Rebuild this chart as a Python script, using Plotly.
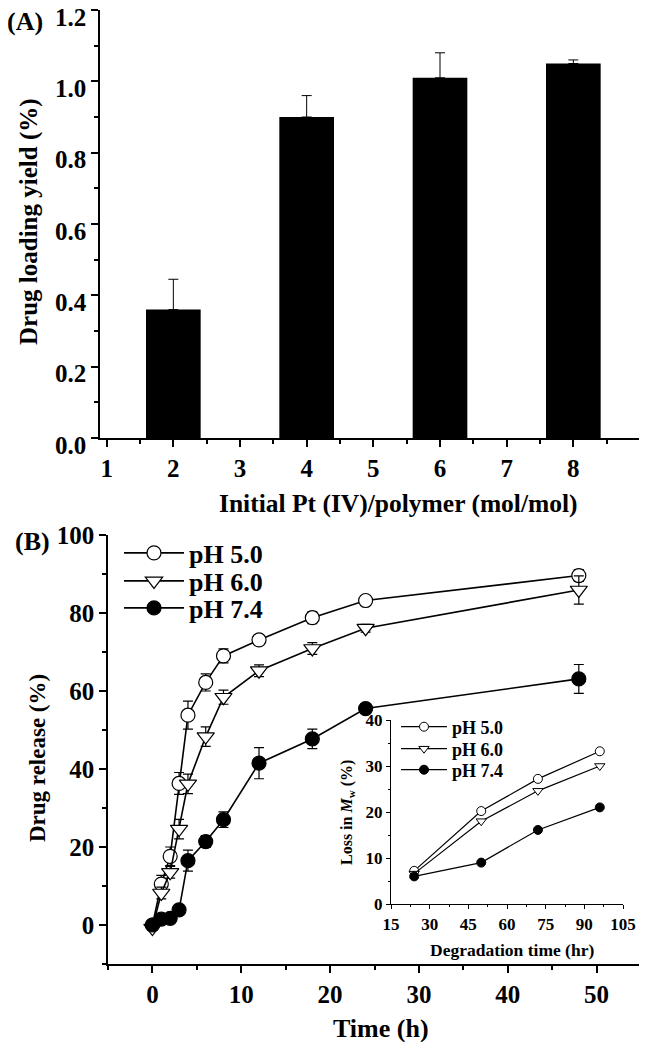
import plotly.graph_objects as go

# ---------- Panel A data ----------
ratio = [2, 4, 6, 8]
loading = [0.36, 0.90, 1.01, 1.05]
loading_err = [0.085, 0.06, 0.07, 0.01]

# ---------- Panel B data ----------
time_h = [0, 1, 2, 3, 4, 6, 8, 12, 18, 24, 48]
rel_ph50 = [0.0, 10.5, 17.6, 36.3, 53.8, 62.2, 69.0, 73.1, 78.8, 83.2, 89.6]
err_ph50 = [0.5, 2.2, 2.4, 2.8, 3.6, 2.2, 1.8, 1.0, 1.5, 1.2, 1.5]
rel_ph60 = [-0.8, 8.2, 13.5, 24.6, 36.2, 48.3, 58.4, 65.2, 70.9, 76.1, 85.9]
err_ph60 = [0.5, 1.5, 1.5, 2.5, 2.5, 2.5, 1.8, 1.5, 1.5, 1.0, 3.6]
rel_ph74 = [0.0, 1.5, 1.7, 3.9, 16.5, 21.4, 27.0, 41.5, 47.7, 55.5, 63.1]
err_ph74 = [0.3, 0.4, 0.4, 0.6, 2.7, 1.5, 2.0, 4.0, 2.5, 1.0, 3.7]

# ---------- Inset data ----------
deg_time = [24, 50, 72, 96]
mw_ph50 = [7.2, 20.2, 27.2, 33.2]
mw_ph60 = [6.6, 18.0, 24.6, 30.0]
mw_ph74 = [6.0, 9.0, 16.1, 21.0]

FONT = "Liberation Serif"
PAGE_OFFSET = 8          # default body margin of the html page
W, H = 647 - PAGE_OFFSET, 1050 - 2 * PAGE_OFFSET


def px_x(p):
    return (p - PAGE_OFFSET) / W


def px_y(p):
    return 1 - (p - PAGE_OFFSET) / H


def bfont(size):
    return dict(size=size, family=FONT, weight="bold", color="black")


fig = go.Figure()

# Panel A bars
fig.add_trace(go.Bar(
    x=ratio, y=loading, width=0.82,
    marker=dict(color="black", line=dict(width=0)),
    error_y=dict(type="data", symmetric=False, array=loading_err,
                 arrayminus=[0] * len(loading_err),
                 color="black", thickness=1, width=5),
    xaxis="x", yaxis="y", showlegend=False,
))

# Panel B series (one legend box per series so rows can sit tightly)
series = [
    ("pH 5.0", rel_ph50, err_ph50, "circle", "white", "legend"),
    ("pH 6.0", rel_ph60, err_ph60, "triangle-down", "white", "legend2"),
    ("pH 7.4", rel_ph74, err_ph74, "circle", "black", "legend3"),
]
for name, vals, errs, sym, fill, lg in series:
    fig.add_trace(go.Scatter(
        x=time_h, y=vals, name=name, mode="lines+markers",
        line=dict(color="black", width=1.6),
        marker=dict(symbol=sym, size=14 if sym == "circle" else 15,
                    color=fill, line=dict(color="black", width=1.2)),
        error_y=dict(type="data", array=errs, color="black",
                     thickness=1.2, width=5),
        xaxis="x2", yaxis="y2", legend=lg,
    ))

# Inset series
inset = [
    ("pH 5.0", mw_ph50, "circle", "white", "legend4"),
    ("pH 6.0", mw_ph60, "triangle-down", "white", "legend5"),
    ("pH 7.4", mw_ph74, "circle", "black", "legend6"),
]
for name, vals, sym, fill, lg in inset:
    fig.add_trace(go.Scatter(
        x=deg_time, y=vals, name=name, mode="lines+markers",
        line=dict(color="black", width=1.2),
        marker=dict(symbol=sym, size=9,
                    color=fill, line=dict(color="black", width=1)),
        xaxis="x3", yaxis="y3", legend=lg,
    ))

axis_common = dict(
    showline=True, linecolor="black", linewidth=1.5, showgrid=False,
    zeroline=False, ticks="outside", tickcolor="black", tickwidth=1.5,
    mirror=False, automargin=False, ticklabeloverflow="allow",
)
inset_axis = dict(axis_common, linewidth=1.2, tickwidth=1)


def legend_box(x, y, size, itemwidth):
    return dict(x=px_x(x), y=px_y(y), xanchor="left", yanchor="middle",
                bgcolor="rgba(0,0,0,0)", borderwidth=0, font=bfont(size),
                itemwidth=itemwidth, tracegroupgap=0)


def label(text, x, y, size, angle=0):
    return dict(text=text, x=px_x(x), y=px_y(y), xref="paper", yref="paper",
                xanchor="center", yanchor="middle", showarrow=False,
                textangle=angle, font=bfont(size))


fig.update_layout(
    width=W, height=H,
    margin=dict(l=0, r=0, t=0, b=0),
    paper_bgcolor="white", plot_bgcolor="white",
    font=dict(family=FONT, color="black", size=20, weight="bold"),
    barmode="overlay",
    xaxis=dict(
        **axis_common,
        domain=[px_x(100), px_x(640)], anchor="y",
        range=[0.9, 9.0], tickvals=[1, 2, 3, 4, 5, 6, 7, 8], ticklen=7,
        tickfont=bfont(25),
        minor=dict(tickvals=[1.5, 2.5, 3.5, 4.5, 5.5, 6.5, 7.5, 8.5],
                   ticks="outside", ticklen=4, tickcolor="black"),
    ),
    yaxis=dict(
        **axis_common,
        domain=[px_y(438), px_y(10)], anchor="x",
        range=[0, 1.2], tickvals=[0, 0.2, 0.4, 0.6, 0.8, 1.0, 1.2],
        tickformat=".1f", ticklen=7, tickfont=bfont(25), ticklabelshift=7,
        minor=dict(dtick=0.1, ticks="outside", ticklen=4, tickcolor="black"),
    ),
    xaxis2=dict(
        **axis_common,
        domain=[px_x(108), px_x(641)], anchor="y2",
        range=[-5, 55], tickvals=[0, 10, 20, 30, 40, 50], ticklen=7,
        tickfont=bfont(25),
        minor=dict(dtick=5, tick0=-5, ticks="outside", ticklen=4, tickcolor="black"),
    ),
    yaxis2=dict(
        **axis_common,
        domain=[px_y(964), px_y(535)], anchor="x2",
        range=[-10, 100], tickvals=[0, 20, 40, 60, 80, 100], ticklen=7,
        tickfont=bfont(25),
        minor=dict(dtick=10, tick0=0, ticks="outside", ticklen=4, tickcolor="black"),
    ),
    xaxis3=dict(
        **inset_axis,
        domain=[px_x(391), px_x(623)], anchor="y3",
        range=[15, 105], tickvals=[15, 30, 45, 60, 75, 90, 105], ticklen=4,
        tickfont=bfont(17),
        minor=dict(dtick=7.5, tick0=15, ticks="outside", ticklen=2, tickcolor="black"),
    ),
    yaxis3=dict(
        **inset_axis,
        domain=[px_y(904), px_y(720)], anchor="x3",
        range=[0, 40], tickvals=[0, 10, 20, 30, 40], ticklen=4,
        tickfont=bfont(17),
        minor=dict(dtick=5, tick0=0, ticks="outside", ticklen=2, tickcolor="black"),
    ),
    legend=legend_box(119, 553, 26, 60),
    legend2=legend_box(119, 581, 26, 60),
    legend3=legend_box(119, 608, 26, 60),
    legend4=legend_box(396, 727, 18, 46),
    legend5=legend_box(396, 749, 18, 46),
    legend6=legend_box(396, 770, 18, 46),
    annotations=[
        label("(A)", 25, 22, 26),
        label("(B)", 32, 541, 26),
        label("Initial Pt (IV)/polymer (mol/mol)", 398, 503, 25.5),
        label("Drug loading yield (%)", 29, 222, 25, angle=-90),
        label("Time (h)", 381, 1028, 26),
        label("Drug release (%)", 37, 758, 23, angle=-90),
        label("Degradation time (hr)", 512, 950, 17.5),
        label("Loss in <i>M</i><sub>w</sub> (%)", 347, 813, 16, angle=-90),
    ],
)

fig.write_html("out.html")
